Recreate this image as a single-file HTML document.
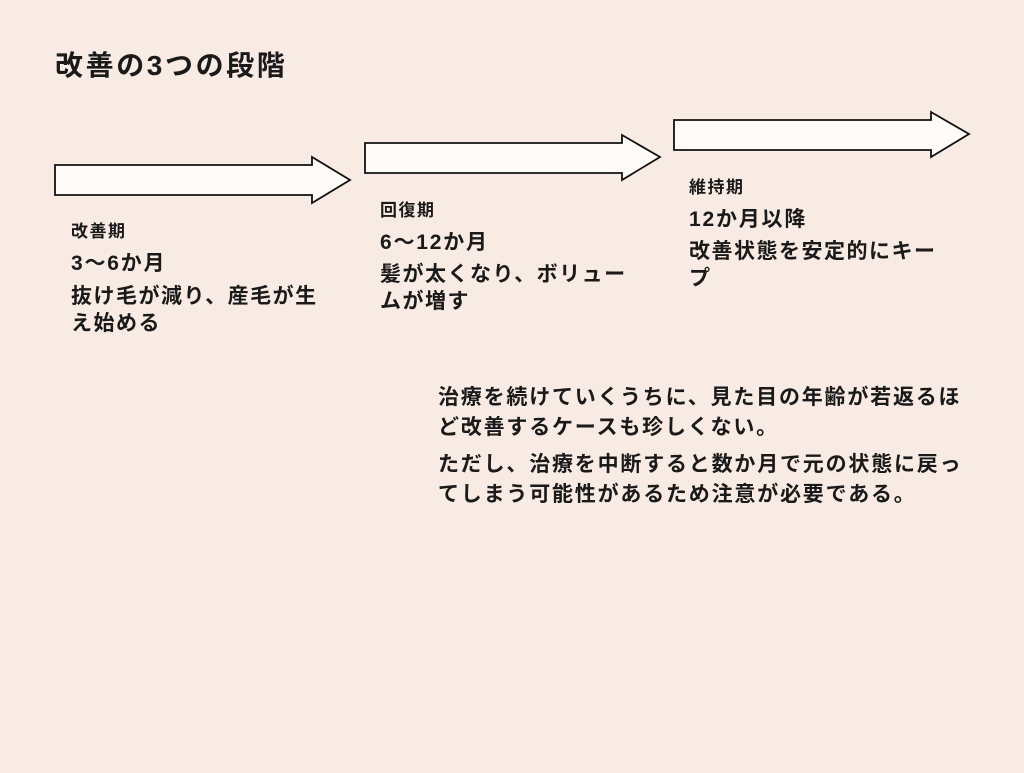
<!DOCTYPE html>
<html><head><meta charset="utf-8"><style>
body{margin:0;width:1024px;height:773px;background:#f8ebe4;position:relative;overflow:hidden;font-family:"Liberation Sans","Noto Sans CJK JP",sans-serif;color:#1a1a1a;font-weight:bold}
.t{position:absolute;white-space:nowrap}
.b{font-size:21px;letter-spacing:1.5px;line-height:27px}
</style></head><body>
<div class="t" style="left:55px;top:44px;font-size:28px;letter-spacing:2.6px">改善の3つの段階</div>
<svg width="1024" height="773" style="position:absolute;left:0;top:0">
<g fill="#fefbf8" stroke="#111" stroke-width="1.8">
<polygon points="55,165 312,165 312,157 350,180 312,203 312,195 55,195"/>
<polygon points="365,143 622,143 622,135 660,157 622,180 622,173 365,173"/>
<polygon points="674,120 931,120 931,112 969,134 931,157 931,150 674,150"/>
</g></svg>
<div class="t" style="left:71px;top:217px;font-size:17px;letter-spacing:1.5px">改善期</div>
<div class="t" style="left:71px;top:247px;font-size:21px;letter-spacing:1.8px">3〜6か月</div>
<div class="t b" style="left:71px;top:283px">抜け毛が減り、産毛が生<br>え始める</div>
<div class="t" style="left:380px;top:196px;font-size:17px;letter-spacing:1.5px">回復期</div>
<div class="t" style="left:380px;top:226px;font-size:21px;letter-spacing:1.8px">6〜12か月</div>
<div class="t b" style="left:380px;top:261px">髪が太くなり、ボリュー<br>ムが増す</div>
<div class="t" style="left:689px;top:173px;font-size:17px;letter-spacing:1.5px">維持期</div>
<div class="t" style="left:689px;top:203px;font-size:21px;letter-spacing:1.8px">12か月以降</div>
<div class="t b" style="left:689px;top:238px">改善状態を安定的にキー<br>プ</div>
<div class="t b" style="left:438px;top:383px;line-height:30px;letter-spacing:1.8px">治療を続けていくうちに、見た目の年齢が若返るほ<br>ど改善するケースも珍しくない。</div>
<div class="t b" style="left:438px;top:450px;line-height:30px;letter-spacing:1.8px">ただし、治療を中断すると数か月で元の状態に戻っ<br>てしまう可能性があるため注意が必要である。</div>
</body></html>
